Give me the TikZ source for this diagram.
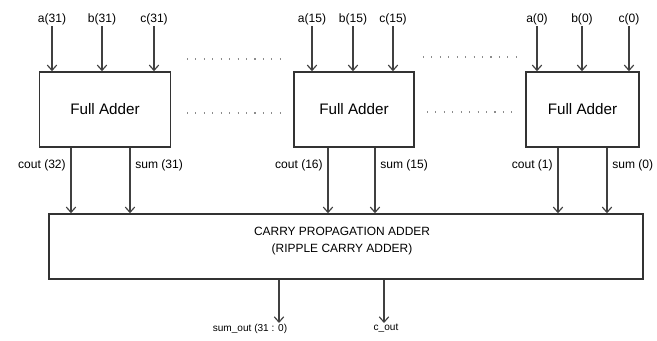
\documentclass[tikz,border=0pt]{standalone}
\usepackage{fontspec}
\setmainfont{Liberation Sans}
\usetikzlibrary{arrows.meta}

\begin{document}
\begin{tikzpicture}[x=0.03cm, y=-0.03cm,
    sig/.style={draw=black!75, line width=1pt, -{Straight Barb[length=4.5pt, width=8pt]}},
    fabox/.style={draw=black!80, line width=1.3pt, minimum height=2.25cm, font=\fontsize{13}{15}\selectfont},
    lbl/.style={font=\fontsize{10.3}{12}\selectfont, inner sep=1pt},
    dots/.style={draw=black!45, line width=0.9pt, dash pattern=on 0.9pt off 6.3pt}]
    \useasboundingbox (0,0) rectangle (657,340);

    % Full adders and the final adder
    \node[fabox, minimum width=3.93cm] (fa31) at (105,109.5) {Full Adder};
    \node[fabox, minimum width=3.6cm] (fa15) at (354,109.5) {Full Adder};
    \node[fabox, minimum width=3.39cm] (fa0) at (582.5,109.5) {Full Adder};
    \node[fabox, minimum width=17.82cm, minimum height=1.95cm] (cpa) at (346,246.5) {};
    \node[lbl, align=center, font=\fontsize{10.2}{14.5}\selectfont] (cpatext) at (342,241)
        {CARRY PROPAGATION ADDER\\(RIPPLE CARRY ADDER)};

    % Inputs
    \foreach \fa/\bit/\xa/\xb/\xc in {fa31/31/52/102/154, fa15/15/312/353/393, fa0/0/537/582/629} {
        \foreach \s/\x in {a/\xa, b/\xb, c/\xc} {
            \node[lbl] (\s\bit) at (\x,19) {\s(\bit)};
            \draw[sig] (\s\bit) -- (\s\bit |- \fa.north);
        }
    }

    % Carry and sum outputs
    \foreach \fa/\cx/\sx/\co/\so in {fa31/71/130/32/31, fa15/328/375/16/15, fa0/558/607/1/0} {
        \draw[sig] (\cx,0 |- \fa.south) -- node[lbl, left=3pt, pos=0.27] {cout (\co)} (\cx,0 |- cpa.north);
        \draw[sig] (\sx,0 |- \fa.south) -- node[lbl, right=3pt, pos=0.27] {sum (\so)} (\sx,0 |- cpa.north);
    }

    % Outputs of the final adder
    \node[lbl, anchor=north, font=\fontsize{8.6}{10}\selectfont] (sumout) at (250,323) {sum\_out (31 : 0)};
    \node[lbl, anchor=north, font=\fontsize{8.6}{10}\selectfont] (cout) at (386,323) {c\_out};
    \draw[sig] (279,0 |- cpa.south) -- (279,0 |- sumout.north);
    \draw[sig] (384,0 |- cpa.south) -- (384,0 |- cout.north);

    % Dotted continuation
    \draw[dots] (187,59) -- (281,59);
    \draw[dots] (187,113) -- (281,113);
    \draw[dots] (423,57) -- (517,57);
    \draw[dots] (427,112) -- (517,112);
\end{tikzpicture}
\end{document}
